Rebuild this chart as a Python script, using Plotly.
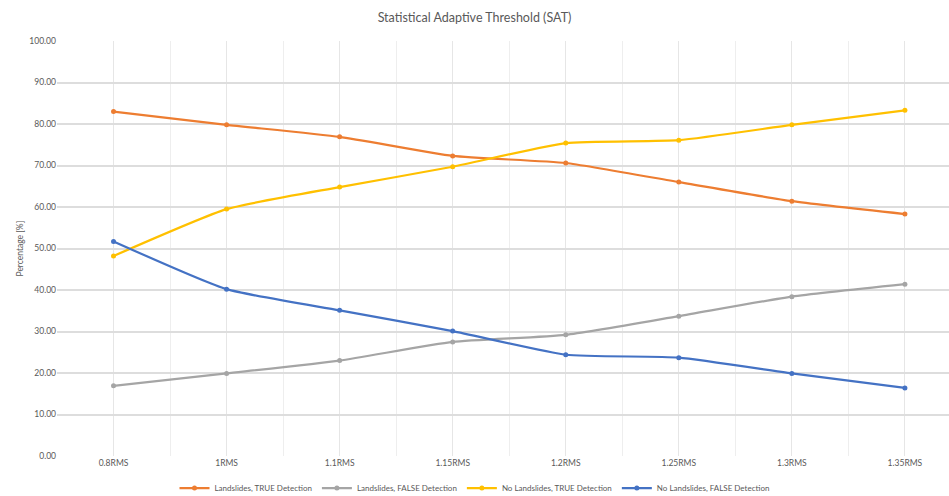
import plotly.graph_objects as go

categories = ["0.8RMS", "1RMS", "1.1RMS", "1.15RMS", "1.2RMS", "1.25RMS", "1.3RMS", "1.35RMS"]
landslides_true = [83.0, 79.8, 76.9, 72.3, 70.6, 66.0, 61.4, 58.3]
landslides_false = [16.9, 19.9, 23.0, 27.5, 29.2, 33.7, 38.4, 41.4]
no_landslides_true = [48.2, 59.5, 64.8, 69.7, 75.4, 76.1, 79.8, 83.3]
no_landslides_false = [51.7, 40.2, 35.1, 30.1, 24.4, 23.7, 19.9, 16.4]

series = [
    ("Landslides, TRUE Detection", landslides_true, "#ED7D31"),
    ("Landslides, FALSE Detection", landslides_false, "#A5A5A5"),
    ("No Landslides, TRUE Detection", no_landslides_true, "#FFC000"),
    ("No Landslides, FALSE Detection", no_landslides_false, "#4472C4"),
]

xs = list(range(len(categories)))
fig = go.Figure()
for name, vals, col in series:
    fig.add_trace(go.Scatter(
        x=xs, y=vals, name=name, mode="lines+markers",
        line=dict(color=col, width=2.2, shape="spline", smoothing=0.5),
        marker=dict(color=col, size=5),
    ))

font = "Lato, 'Open Sans', sans-serif"
fig.update_layout(
    width=949, height=496,
    paper_bgcolor="white", plot_bgcolor="white",
    margin=dict(l=57, r=0, t=41, b=40),
    title=dict(text="Statistical Adaptive Threshold (SAT)", x=0.5, xanchor="center",
               xref="container", y=0.964, yanchor="middle",
               font=dict(family=font, size=12.5, color="#595959")),
    font=dict(family=font, color="#595959"),
    showlegend=True,
    legend=dict(orientation="h", xref="container", yref="container",
                x=0.5, xanchor="center", y=0.016, yanchor="middle",
                font=dict(size=8, color="#595959"), itemwidth=30,
                traceorder="normal"),
    xaxis=dict(
        range=[-0.5, 7.39], tickmode="array", tickvals=xs, ticktext=categories,
        showgrid=True, gridcolor="#E6E6E6", gridwidth=1, automargin=False,
        tickfont=dict(size=8.5, color="#595959"), ticks="", zeroline=False,
        showline=False,
        minor=dict(tickvals=[i - 0.5 for i in range(len(categories) + 1)],
                   showgrid=True, gridcolor="#EEEEEE", gridwidth=1),
    ),
    yaxis=dict(
        range=[0, 100], dtick=10, tickformat=".2f", automargin=False,
        showgrid=True, gridcolor="#DDDDDD", gridwidth=1.5,
        tickfont=dict(size=8.5, color="#595959"), zeroline=False,
        showline=False, ticks="",
    ),
    annotations=[dict(text="Percentage [%]", xref="paper", yref="paper",
                      x=0, y=0.5, xshift=-45, textangle=-90, showarrow=False,
                      font=dict(size=8.5, color="#595959"))],
)

fig.write_html("out.html", config={"displayModeBar": False},
               post_script="document.body.style.margin='0';")
